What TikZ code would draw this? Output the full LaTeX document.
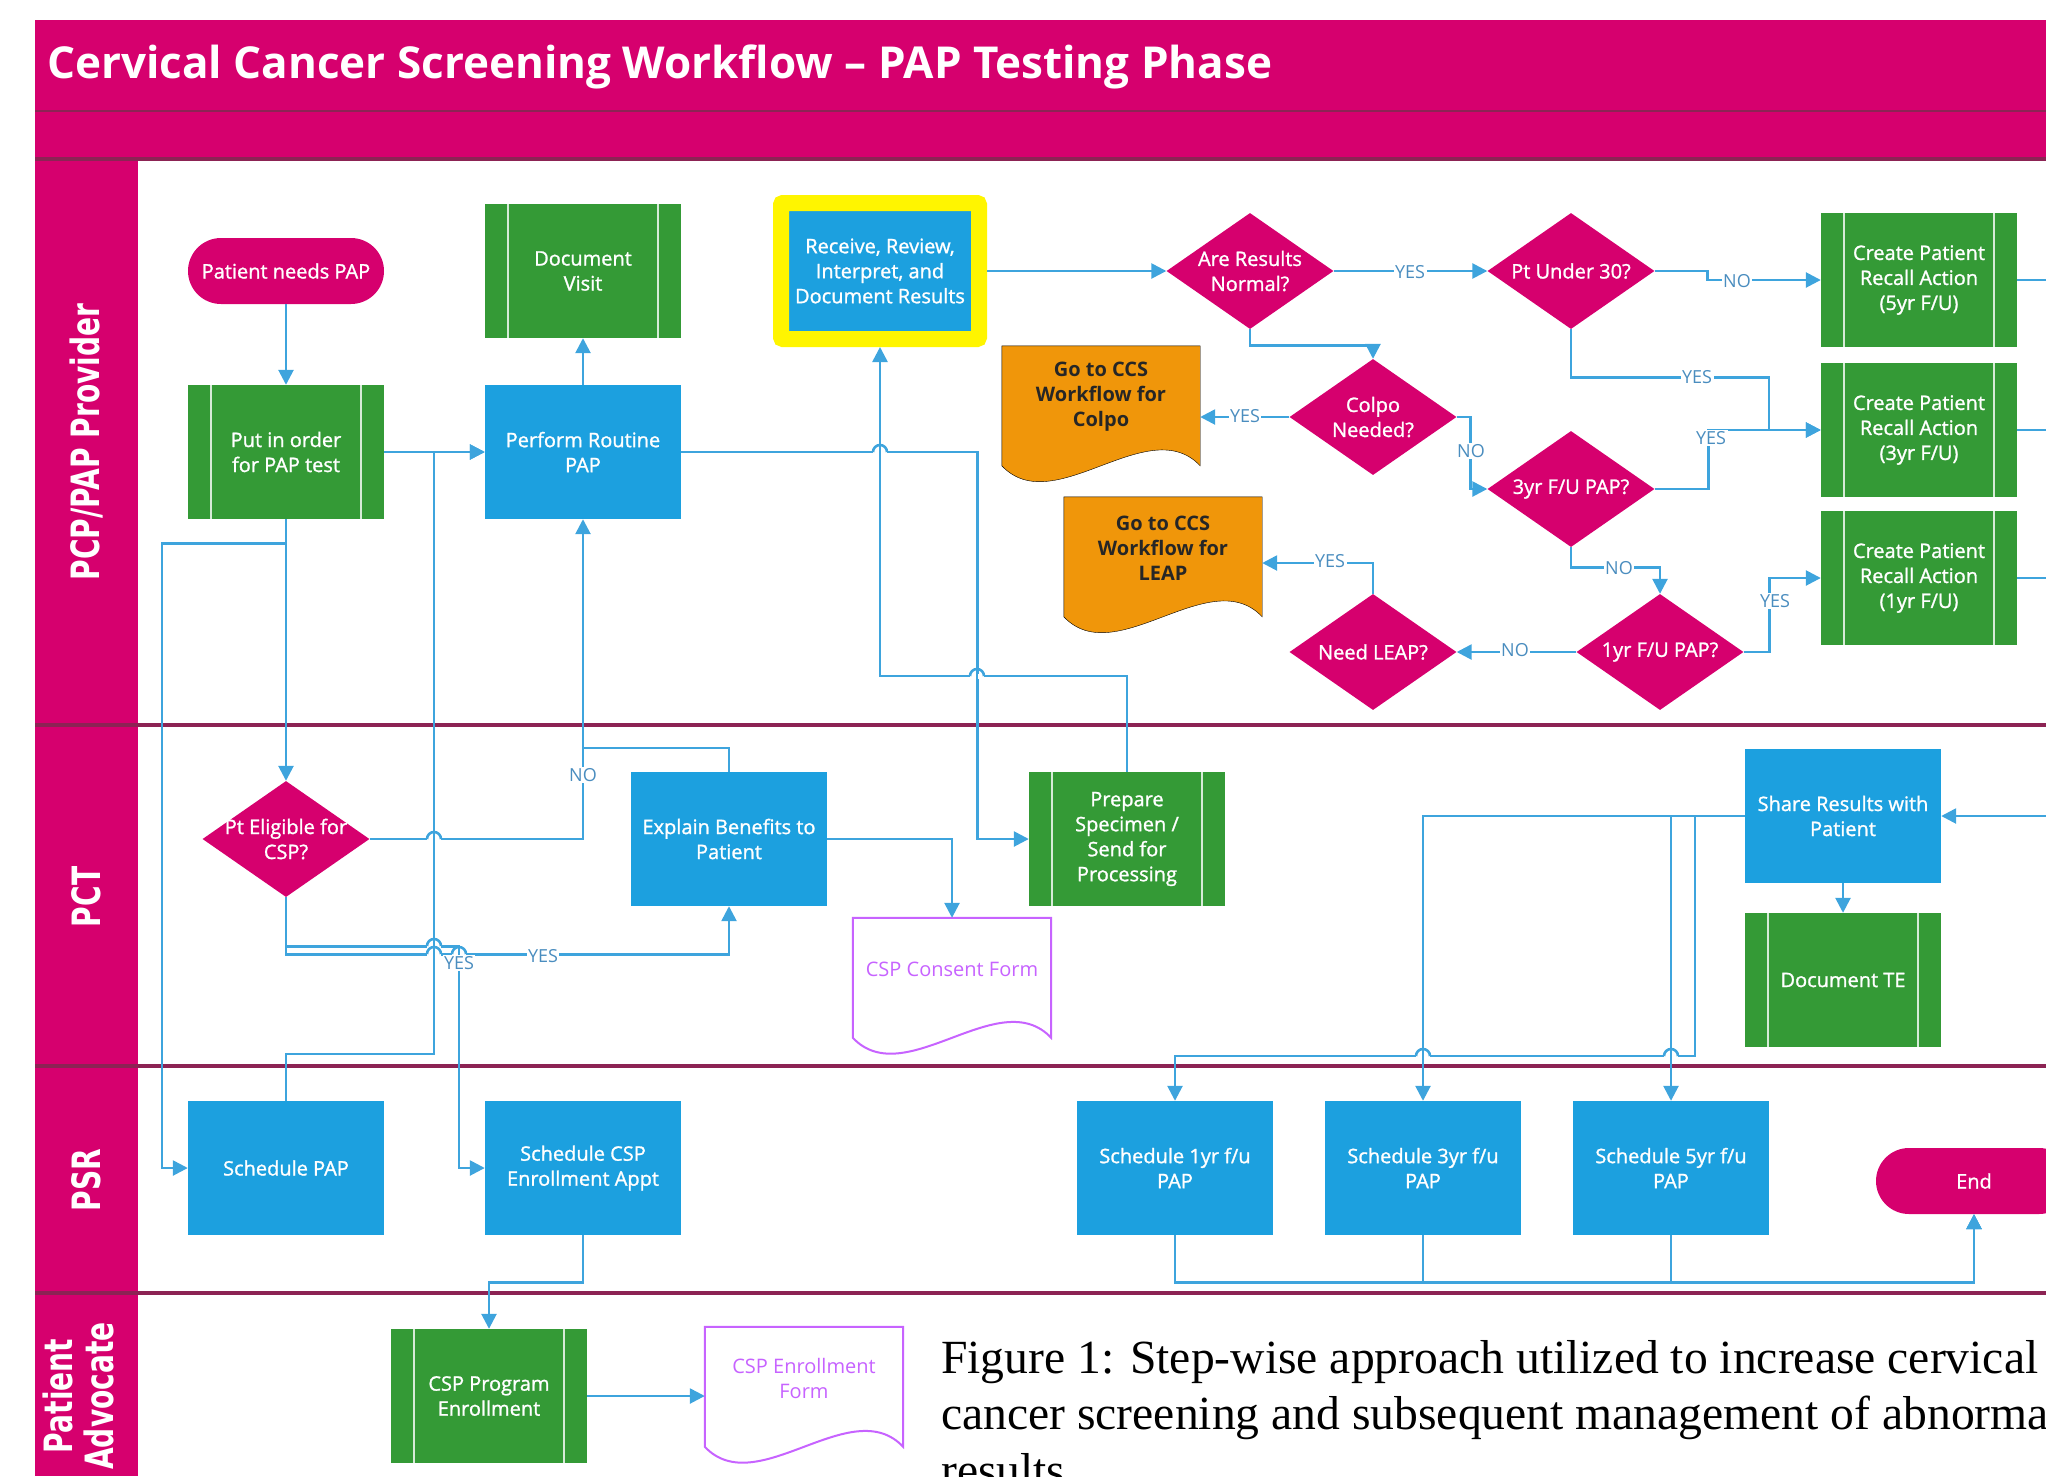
\documentclass[tikz,border=0pt]{standalone}
\usepackage{fontspec}
\setmainfont{Open Sans}
\newfontfamily\boxfont[FakeBold=1.2]{Open Sans}
\newfontfamily\lanefont{DejaVu Sans}
\newfontfamily\capfont{Liberation Serif}
\usetikzlibrary{arrows.meta,calc,shapes.geometric}
\pgfdeclarelayer{back}
\pgfsetlayers{back,main}

% document shape with a wavy foot, drawn behind the node text
\newcommand\docwave[2]{%
  \begin{pgfonlayer}{back}
  \draw[#2] (#1.north west) -- (#1.north east) -- ($(#1.north east)+(0,120)$)
    .. controls ($(#1.north east)+(-52,65)$) and ($(#1.north west)+(52,175)$)
    .. ($(#1.north west)+(0,120)$) -- cycle;
  \end{pgfonlayer}}
% line jump where a horizontal connector crosses a vertical one
\newcommand\hopover[1]{%
  \fill[white] ($#1+(-7,-2.5)$) rectangle ($#1+(7,2.5)$);
  \draw[wire] ($#1+(0,-4)$) -- ($#1+(0,4)$);
  \draw[wire] ($#1+(-7,0)$) arc[start angle=180,end angle=0,radius=7pt];}
\newcommand\lanetext[1]{\scalebox{0.72}[1]{#1}}

\begin{document}
\begin{tikzpicture}[
  x=1pt,y=-1pt,
  wire/.style={draw=wireBlue,line width=2.6pt},
  flow/.style={wire,-{Triangle[length=15pt,width=15pt]}},
  procbox/.style={rectangle,fill=blueMain,minimum width=196pt,minimum height=134pt,
                  inner sep=0pt,text=white,align=center,font={\boxfont\fontsize{20}{25}\selectfont}},
  subproc/.style={procbox,fill=greenMain,
    path picture={\draw[white!80!greenMain,line width=2pt]
      ([xshift=23pt]path picture bounding box.north west) -- ([xshift=23pt]path picture bounding box.south west)
      ([xshift=-23pt]path picture bounding box.north east) -- ([xshift=-23pt]path picture bounding box.south east);}},
  terminal/.style={rectangle,rounded corners=33pt,fill=pinkMain,minimum width=196pt,
                   minimum height=66pt,inner sep=0pt,text=white,font={\boxfont\fontsize{20}{25}\selectfont}},
  decision/.style={diamond,fill=pinkMain,minimum width=167pt,minimum height=116pt,
                   inner sep=0pt,label={[dtext]center:#1}},
  dtext/.style={text=white,align=center,inner sep=0pt,font={\boxfont\fontsize{20}{25}\selectfont}},
  docnode/.style={rectangle,minimum width=198pt,minimum height=102pt,inner sep=0pt,
                  align=center,font={\fontsize{20}{25}\selectfont}},
  gotodoc/.style={docnode,text=black!85,font={\bfseries\fontsize{20}{25}\selectfont}},
  formdoc/.style={docnode,text=violetMain},
  answer/.style={fill=white,inner sep=1.5pt,text=answerBlue,font={\fontsize{18}{18}\selectfont}},
  lanelabel/.style={rotate=90,text=white,align=center,
                    font={\lanefont\bfseries\fontsize{39}{37}\selectfont}},
]
\definecolor{pinkMain}{HTML}{D6006E}
\definecolor{greenMain}{HTML}{349A36}
\definecolor{blueMain}{HTML}{1CA0DF}
\definecolor{orangeMain}{HTML}{F0960A}
\definecolor{yellowMain}{HTML}{FFF500}
\definecolor{violetMain}{HTML}{C763FF}
\definecolor{wireBlue}{HTML}{3EA4DD}
\definecolor{answerBlue}{HTML}{4A8DBF}
\definecolor{laneRule}{HTML}{8C2354}

\useasboundingbox (0,0) rectangle (2046,1476);

% swimlane frame
\fill[pinkMain] (35,20) rectangle (2046,159);
\fill[pinkMain] (35,159) rectangle (138,1476);
\draw[laneRule,line width=2.5pt] (35,111) -- (2046,111);
\foreach \y in {159,725,1066,1293}
  \draw[laneRule,line width=3.5pt] (35,\y) -- (2046,\y);
\node[anchor=base west,text=white,inner sep=0pt,font={\bfseries\fontsize{44}{44}\selectfont}]
  (title) at (47,78) {Cervical Cancer Screening Workflow – PAP Testing Phase};

\node[lanelabel] (lanePcp) at (86,442) {\lanetext{PCP/PAP Provider}};
\node[lanelabel] (lanePct) at (86,897) {\lanetext{PCT}};
\node[lanelabel] (lanePsr) at (86,1180) {\lanetext{PSR}};
\node[lanelabel] (laneAdv) at (84,1396)
  {\lanetext{\begin{tabular}{@{}c@{}}Patient\\Advocate\end{tabular}}};

% PCP/PAP Provider lane
\node[terminal] (pnp) at (286,271) {Patient needs PAP};
\node[subproc] (dv) at (583,271) {Document\\Visit};
\node[procbox,minimum width=198pt,minimum height=136pt,draw=yellowMain,line width=16pt,
      rounded corners=2pt] (rr) at (880,271) {Receive, Review,\\Interpret, and\\Document Results};
\node[subproc] (pio) at (286,452) {Put in order\\for PAP test};
\node[procbox] (prp) at (583,452) {Perform Routine\\PAP};
\node[decision={Are Results\\Normal?}] (arn) at (1250,271) {};
\node[decision={Pt Under 30?}] (pu30) at (1571,271) {};
\node[subproc] (r5) at (1919,280) {Create Patient\\Recall Action\\(5yr F/U)};
\node[subproc] (r3) at (1919,430) {Create Patient\\Recall Action\\(3yr F/U)};
\node[subproc] (r1) at (1919,578) {Create Patient\\Recall Action\\(1yr F/U)};
\node[decision={Colpo\\Needed?}] (cn) at (1373,417) {};
\node[gotodoc] (gcolpo) at (1101,397) {Go to CCS\\Workflow for\\Colpo};
\docwave{gcolpo}{fill=orangeMain}
\node[decision={3yr F/U PAP?}] (f3) at (1571,489) {};
\node[gotodoc] (gleap) at (1163,548) {Go to CCS\\Workflow for\\LEAP};
\docwave{gleap}{fill=orangeMain}
\node[decision={Need LEAP?}] (nl) at (1373,652) {};
\node[decision={1yr F/U PAP?}] (f1) at (1660,652) {};

% PCT lane
\node[decision={Pt Eligible for\\CSP?}] (pe) at (286,839) {};
\node[procbox] (eb) at (729,839) {Explain Benefits to\\Patient};
\node[subproc] (ps) at (1127,839) {Prepare\\Specimen /\\Send for\\Processing};
\node[formdoc] (ccf) at (952,969) {CSP Consent Form};
\docwave{ccf}{draw=violetMain,line width=2pt,fill=white}
\node[procbox] (sr) at (1843,816) {Share Results with\\Patient};
\node[subproc] (dte) at (1843,980) {Document TE};

% PSR lane
\node[procbox] (spap) at (286,1168) {Schedule PAP};
\node[procbox] (scsp) at (583,1168) {Schedule CSP\\Enrollment Appt};
\node[procbox] (s1) at (1175,1168) {Schedule 1yr f/u\\PAP};
\node[procbox] (s3) at (1423,1168) {Schedule 3yr f/u\\PAP};
\node[procbox] (s5) at (1671,1168) {Schedule 5yr f/u\\PAP};
\node[terminal] (endn) at (1974,1181) {End};

% Patient Advocate lane
\node[subproc] (cpe) at (489,1396) {CSP Program\\Enrollment};
\node[formdoc] (cef) at (804,1378) {CSP Enrollment\\Form};
\docwave{cef}{draw=violetMain,line width=2pt,fill=white}

% connectors
\coordinate (rim) at (2046,0);
\draw[flow] (pnp.south) -- (pio.north);
\draw[flow] (prp.north) -- (dv.south);
\draw[flow] (pio.east) -- (prp.west);
\draw[flow] (spap.north) -- ++(0,-47) -- ++(148,0) |- (prp.west);
\draw[flow] (pio.south) -- (pe.north);
\draw[flow] ([yshift=-24pt]pio.south) -- ++(-124,0) |- (spap.west);
\draw[flow] (pe.east) -- (pe.east -| prp.south) -- (prp.south);
\draw[wire] (eb.north) |- ++(-146,-24);
\draw[flow] (pe.south) -- ++(0,57) -| (eb.south);
\draw[flow] (pe.south) -- ++(0,49) -- ++(173,0) |- (scsp.west);
\draw[flow] (prp.east) -- ++(296,0) |- (ps.west);
\draw[flow] (ps.north) |- ++(-247,-96) -- (rr.south);
\draw[flow] (eb.east) -| (ccf.north);
\draw[flow] (rr.east) -- (arn.west);
\draw[flow] (arn.east) -- (pu30.west);
\draw[flow] (pu30.east) -- ++(53,0) |- (r5.west);
\draw[flow] (pu30.south) |- ++(198,48) |- (r3.west);
\draw[flow] (f3.east) -- ++(54,0) |- (r3.west);
\draw[flow] (arn.south) -- ++(0,16) -| (cn.north);
\draw[flow] (cn.west) -- (cn.west -| gcolpo.east);
\draw[flow] (cn.east) -- ++(14,0) |- (f3.west);
\draw[flow] (f3.south) -- ++(0,20) -| (f1.north);
\draw[flow] (f1.east) -- ++(26,0) |- (r1.west);
\draw[flow] (f1.west) -- (nl.east);
\draw[flow] (nl.north) |- ([yshift=-15pt]gleap.east);
\foreach \r in {r5,r3,r1}
  \draw[wire] (\r.east) -- (\r.east -| rim);
\draw[flow] (sr.east -| rim) -- (sr.east);
\draw[flow] (sr.south) -- (dte.north);
\draw[flow] (sr.west) -| (s3.north);
\draw[flow] (sr.west) -| (s5.north);
\draw[flow] (sr.west) -- ++(-50,0) -- ++(0,240) -| (s1.north);
\foreach \s in {s1,s3,s5}
  \draw[flow] (\s.south) -- ++(0,47) -| (endn.south);
\draw[flow] (scsp.south) -- ++(0,47) -| (cpe.north);
\draw[flow] (cpe.east) -- (cpe.east -| cef.west);

% jumps
\foreach \hx/\hy in {880/452,977/676,434/839,434/946,434/954,459/954,1423/1056,1671/1056}
  {\hopover{(\hx,\hy)}}

% answers on the connectors
\node[answer] (ansA) at (1410,272) {YES};
\node[answer] (ansB) at (1737,281) {NO};
\node[answer] (ansC) at (1697,377) {YES};
\node[answer] (ansD) at (1711,438) {YES};
\node[answer] (ansE) at (1245,416) {YES};
\node[answer] (ansF) at (1471,451) {NO};
\node[answer] (ansG) at (1619,568) {NO};
\node[answer] (ansH) at (1775,601) {YES};
\node[answer] (ansI) at (1515,650) {NO};
\node[answer] (ansJ) at (1330,561) {YES};
\node[answer] (ansK) at (583,775) {NO};
\node[answer] (ansL) at (543,956) {YES};
\node[answer] (ansM) at (459,963) {YES};

\node[anchor=north west,align=left,inner sep=0pt,font={\capfont\fontsize{47.6}{56.5}\selectfont}]
  (caption) at (941,1340) {Figure 1: Step-wise approach utilized to increase cervical\\
  cancer screening and subsequent management of abnormal\\results};
\end{tikzpicture}
\end{document}
